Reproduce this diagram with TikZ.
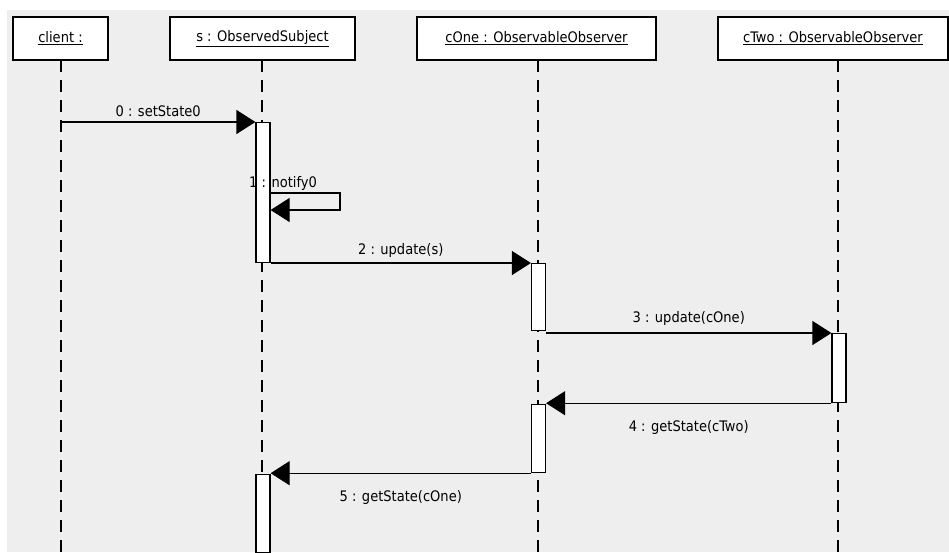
\documentclass[tikz,border=0pt]{standalone}
\usepackage{fontspec}
\setmainfont{DejaVu Sans Condensed}
\usetikzlibrary{arrows.meta}
\definecolor{canvas}{HTML}{EEEEEE}
\begin{document}
\begin{tikzpicture}[x=1pt,y=-1pt,
  every node/.style={font=\fontsize{14.5}{17}\selectfont, inner sep=0pt},
  headbox/.style={draw, line width=1.2pt, fill=white, minimum height=43pt},
  lifeline/.style={line width=1.2pt, dash pattern=on 12pt off 8pt},
  actbar/.style={draw, line width=1.2pt, fill=white, minimum width=14pt, anchor=north},
  msg/.style={line width=1.2pt, -{Triangle[length=19pt,width=24pt]}},
  lbl/.style={}
]
\useasboundingbox (0,0) rectangle (949,552);
\fill[white] (0,0) rectangle (949,552);
\fill[canvas] (7,10) rectangle (949,552);

% object headers
\node[headbox, minimum width=95pt]  (client) at (60.5,38.5) {\underline{client :}};
\node[headbox, minimum width=185pt] (subj)   at (262.5,38.5) {\underline{s : ObservedSubject}};
\node[headbox, minimum width=239pt] (cone)   at (536.5,38.5) {\underline{cOne : ObservableObserver}};
\node[headbox, minimum width=230pt] (ctwo)   at (833,38.5) {\underline{cTwo : ObservableObserver}};

% lifelines
\coordinate (clientEnd) at (61,552);
\coordinate (subjEnd) at (262,552);
\coordinate (coneEnd) at (538,552);
\coordinate (ctwoEnd) at (838,552);
\draw[lifeline] (61,60) -- (clientEnd);
\draw[lifeline] (262,60) -- (subjEnd);
\draw[lifeline] (538,60) -- (coneEnd);
\draw[lifeline] (838,60) -- (ctwoEnd);

% activation bars
\node[actbar, minimum height=140pt] (sA) at (263,122) {};
\node[actbar, minimum height=67pt]  (oA) at (538.5,263) {};
\node[actbar, minimum height=69pt]  (tA) at (839,333) {};
\node[actbar, minimum height=68pt]  (oB) at (538.5,404) {};
\node[actbar, minimum height=78pt]  (sB) at (263,474) {};

% messages
\coordinate (c0) at (61,122);
\draw[msg] (c0) -- (sA.north west) node[lbl, midway, above=5pt] {0 : setState0};

\coordinate (l1) at (340,193);
\coordinate (l2) at (340,210);
\draw[msg] (sA.east |- l1) -- (l1) -- (l2) -- (sA.east |- l2);
\node[lbl, anchor=base west] (n1) at (249,187) {1 : notify0};

\draw[msg] (sA.east |- oA.north) -- (oA.north west) node[lbl, midway, above=5pt] {2 : update(s)};
\draw[msg] (oA.east |- tA.north) -- (tA.north west) node[lbl, midway, above=7pt] {3 : update(cOne)};
\draw[msg] (tA.south west) -- (oB.east |- tA.south) node[lbl, midway, below=17pt] {4 : getState(cTwo)};
\draw[msg] (oB.south west) -- (sB.east |- oB.south) node[lbl, midway, below=17pt] {5 : getState(cOne)};
\end{tikzpicture}
\end{document}
